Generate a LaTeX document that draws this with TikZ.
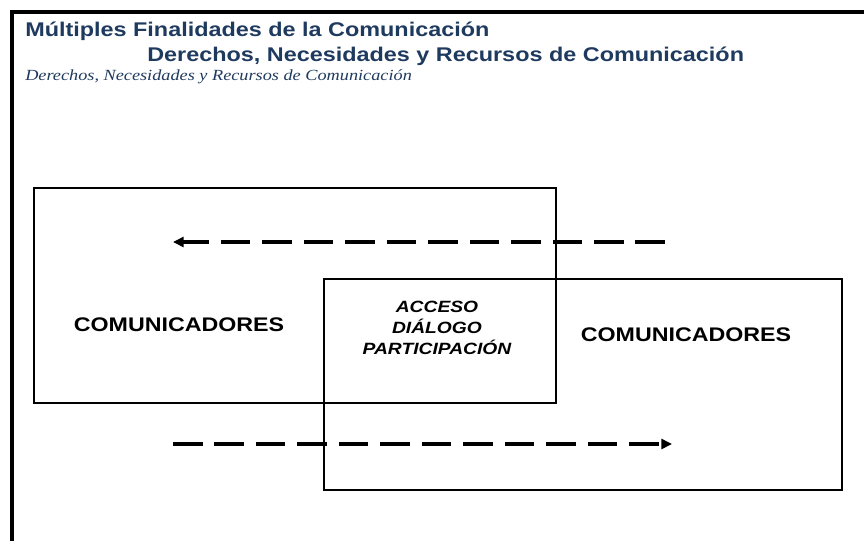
\documentclass[tikz,border=0pt]{standalone}
\usepackage{fontspec}
\setmainfont{Liberation Sans}[FakeStretch=1.18]
\newfontfamily\cursiva{Liberation Serif}[FakeStretch=1.18]
\usepackage[HTML]{xcolor}
\definecolor{azultitulo}{HTML}{1F3A5F}
\usetikzlibrary{arrows.meta}

\begin{document}
\begin{tikzpicture}[x=0.025cm, y=-0.025cm,
  caja/.style={line width=2.1pt},
  flecha/.style={line width=2.2pt, dash pattern=on 21pt off 8.5pt, -{Triangle[length=7.5pt,width=7pt]}},
  titulo/.style={text=azultitulo, font=\fontsize{14.1}{16}\selectfont\bfseries, anchor=base west, inner sep=0pt},
  comunica/.style={font=\fontsize{14}{16}\selectfont\bfseries, inner sep=0pt}]
\useasboundingbox (0,0) rectangle (864,541);

% marco
\coordinate (M1) at (12,541);
\coordinate (M2) at (12,12);
\coordinate (M3) at (864,12);
\draw[line width=2.8pt] (M1)--(M2)--(M3);

% titulos
\node[titulo] (t1) at (25,36) {Múltiples Finalidades de la Comunicación};
\node[titulo] (t2) at (147,61) {Derechos, Necesidades y Recursos de Comunicación};
\node[text=azultitulo, font=\cursiva\itshape\fontsize{11}{13}\selectfont, anchor=base west, inner sep=0pt] (t3) at (25,80) {Derechos, Necesidades y Recursos de Comunicación};

% cajas
\coordinate (A) at (34,188);
\coordinate (B) at (556,403);
\coordinate (C) at (324,279);
\coordinate (D) at (842,490);
\draw[caja] (A) rectangle (B);
\draw[caja] (C) rectangle (D);

\node[comunica] (izq) at (179,325) {COMUNICADORES};
\node[comunica] (der) at (686,335) {COMUNICADORES};
\node[font=\fontsize{11.6}{14.9}\selectfont\bfseries\itshape, align=center, inner sep=0pt] (centro) at (437,328) {ACCESO\\DIÁLOGO\\PARTICIPACIÓN};

% flechas
\coordinate (f1) at (665,242);
\coordinate (f2) at (173,242);
\coordinate (f3) at (173,444);
\coordinate (f4) at (672,444);
\draw[flecha] (f1)--(f2);
\draw[flecha] (f3)--(f4);
\end{tikzpicture}
\end{document}
